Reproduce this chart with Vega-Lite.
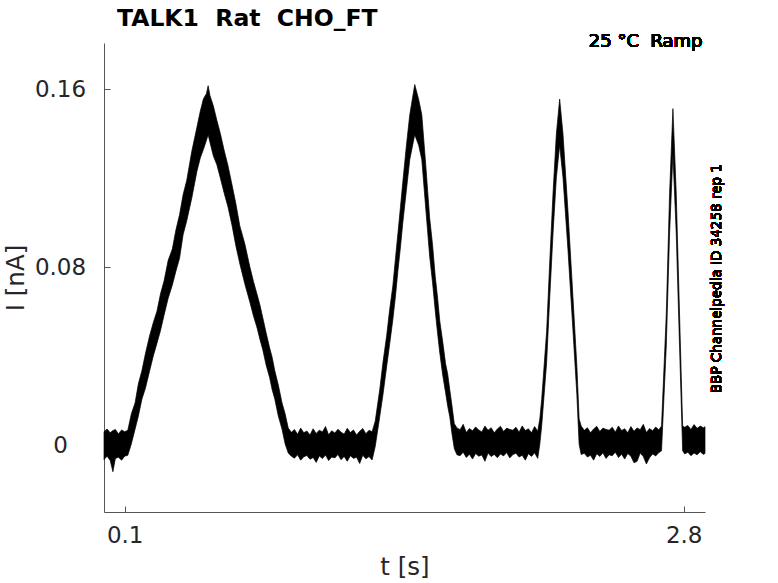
{
  "$schema": "https://vega.github.io/schema/vega-lite/v6.json",
  "description": "TALK1 Rat CHO_FT ramp current trace, band of the noisy current",
  "width": 601,
  "height": 469,
  "autosize": "none",
  "padding": {"left": 104, "top": 43, "right": 73, "bottom": 71},
  "config": {"font": "DejaVu Sans", "view": {"stroke": null}},
  "title": {
    "text": "TALK1\u00a0 Rat\u00a0 CHO_FT",
    "anchor": "start",
    "frame": "group",
    "dx": 13,
    "offset": -17,
    "baseline": "alphabetic",
    "fontSize": 23.5,
    "fontWeight": "bold",
    "color": "#000000"
  },
  "data": {
    "values": [
      {"t": 0.000, "lo": -0.0065, "hi": 0.0060},
      {"t": 0.015, "lo": -0.0050, "hi": 0.0072},
      {"t": 0.030, "lo": -0.0070, "hi": 0.0055},
      {"t": 0.043, "lo": -0.0120, "hi": 0.0065},
      {"t": 0.055, "lo": -0.0060, "hi": 0.0070},
      {"t": 0.070, "lo": -0.0055, "hi": 0.0050},
      {"t": 0.085, "lo": -0.0068, "hi": 0.0068},
      {"t": 0.100, "lo": -0.0050, "hi": 0.0060},
      {"t": 0.115, "lo": -0.0046, "hi": 0.0066},
      {"t": 0.132, "lo": 0.0005, "hi": 0.0140},
      {"t": 0.150, "lo": 0.0071, "hi": 0.0189},
      {"t": 0.166, "lo": 0.0130, "hi": 0.0275},
      {"t": 0.183, "lo": 0.0206, "hi": 0.0334},
      {"t": 0.200, "lo": 0.0255, "hi": 0.0410},
      {"t": 0.220, "lo": 0.0332, "hi": 0.0490},
      {"t": 0.238, "lo": 0.0400, "hi": 0.0550},
      {"t": 0.256, "lo": 0.0458, "hi": 0.0602},
      {"t": 0.273, "lo": 0.0515, "hi": 0.0680},
      {"t": 0.290, "lo": 0.0583, "hi": 0.0737},
      {"t": 0.310, "lo": 0.0660, "hi": 0.0830},
      {"t": 0.330, "lo": 0.0719, "hi": 0.0881},
      {"t": 0.347, "lo": 0.0780, "hi": 0.0965},
      {"t": 0.365, "lo": 0.0840, "hi": 0.1036},
      {"t": 0.382, "lo": 0.0945, "hi": 0.1125},
      {"t": 0.400, "lo": 0.1009, "hi": 0.1191},
      {"t": 0.424, "lo": 0.1110, "hi": 0.1320},
      {"t": 0.449, "lo": 0.1231, "hi": 0.1429},
      {"t": 0.465, "lo": 0.1290, "hi": 0.1500},
      {"t": 0.480, "lo": 0.1328, "hi": 0.1555},
      {"t": 0.495, "lo": 0.1370, "hi": 0.1580},
      {"t": 0.503, "lo": 0.1395, "hi": 0.1615},
      {"t": 0.512, "lo": 0.1360, "hi": 0.1570},
      {"t": 0.528, "lo": 0.1300, "hi": 0.1525},
      {"t": 0.545, "lo": 0.1260, "hi": 0.1460},
      {"t": 0.562, "lo": 0.1200, "hi": 0.1400},
      {"t": 0.580, "lo": 0.1134, "hi": 0.1326},
      {"t": 0.599, "lo": 0.1070, "hi": 0.1255},
      {"t": 0.618, "lo": 0.0989, "hi": 0.1171},
      {"t": 0.637, "lo": 0.0895, "hi": 0.1085},
      {"t": 0.656, "lo": 0.0815, "hi": 0.0985},
      {"t": 0.680, "lo": 0.0725, "hi": 0.0905},
      {"t": 0.705, "lo": 0.0641, "hi": 0.0799},
      {"t": 0.722, "lo": 0.0580, "hi": 0.0735},
      {"t": 0.740, "lo": 0.0525, "hi": 0.0675},
      {"t": 0.753, "lo": 0.0475, "hi": 0.0630},
      {"t": 0.767, "lo": 0.0428, "hi": 0.0572},
      {"t": 0.783, "lo": 0.0360, "hi": 0.0505},
      {"t": 0.800, "lo": 0.0303, "hi": 0.0437},
      {"t": 0.812, "lo": 0.0250, "hi": 0.0395},
      {"t": 0.825, "lo": 0.0206, "hi": 0.0334},
      {"t": 0.842, "lo": 0.0130, "hi": 0.0270},
      {"t": 0.860, "lo": 0.0071, "hi": 0.0189},
      {"t": 0.875, "lo": 0.0005, "hi": 0.0140},
      {"t": 0.890, "lo": -0.0036, "hi": 0.0076},
      {"t": 0.905, "lo": -0.0050, "hi": 0.0057},
      {"t": 0.920, "lo": -0.0059, "hi": 0.0070},
      {"t": 0.935, "lo": -0.0044, "hi": 0.0048},
      {"t": 0.950, "lo": -0.0068, "hi": 0.0076},
      {"t": 0.965, "lo": -0.0053, "hi": 0.0055},
      {"t": 0.980, "lo": -0.0047, "hi": 0.0063},
      {"t": 0.995, "lo": -0.0064, "hi": 0.0045},
      {"t": 1.010, "lo": -0.0056, "hi": 0.0073},
      {"t": 1.025, "lo": -0.0078, "hi": 0.0052},
      {"t": 1.040, "lo": -0.0049, "hi": 0.0067},
      {"t": 1.055, "lo": -0.0061, "hi": 0.0059},
      {"t": 1.070, "lo": -0.0045, "hi": 0.0083},
      {"t": 1.085, "lo": -0.0070, "hi": 0.0046},
      {"t": 1.100, "lo": -0.0054, "hi": 0.0064},
      {"t": 1.115, "lo": -0.0058, "hi": 0.0054},
      {"t": 1.130, "lo": -0.0042, "hi": 0.0071},
      {"t": 1.145, "lo": -0.0066, "hi": 0.0058},
      {"t": 1.160, "lo": -0.0051, "hi": 0.0049},
      {"t": 1.175, "lo": -0.0073, "hi": 0.0075},
      {"t": 1.190, "lo": -0.0048, "hi": 0.0056},
      {"t": 1.205, "lo": -0.0060, "hi": 0.0068},
      {"t": 1.220, "lo": -0.0055, "hi": 0.0045},
      {"t": 1.235, "lo": -0.0083, "hi": 0.0062},
      {"t": 1.250, "lo": -0.0046, "hi": 0.0074},
      {"t": 1.265, "lo": -0.0062, "hi": 0.0051},
      {"t": 1.280, "lo": -0.0052, "hi": 0.0066},
      {"t": 1.295, "lo": -0.0067, "hi": 0.0060},
      {"t": 1.310, "lo": -0.0007, "hi": 0.0107},
      {"t": 1.332, "lo": 0.0128, "hi": 0.0250},
      {"t": 1.348, "lo": 0.0230, "hi": 0.0375},
      {"t": 1.365, "lo": 0.0351, "hi": 0.0489},
      {"t": 1.380, "lo": 0.0455, "hi": 0.0610},
      {"t": 1.395, "lo": 0.0562, "hi": 0.0714},
      {"t": 1.408, "lo": 0.0670, "hi": 0.0840},
      {"t": 1.420, "lo": 0.0786, "hi": 0.0954},
      {"t": 1.432, "lo": 0.0890, "hi": 0.1070},
      {"t": 1.443, "lo": 0.0997, "hi": 0.1179},
      {"t": 1.460, "lo": 0.1140, "hi": 0.1340},
      {"t": 1.477, "lo": 0.1283, "hi": 0.1485},
      {"t": 1.501, "lo": 0.1395, "hi": 0.1620},
      {"t": 1.520, "lo": 0.1347, "hi": 0.1553},
      {"t": 1.535, "lo": 0.1283, "hi": 0.1485},
      {"t": 1.554, "lo": 0.1065, "hi": 0.1260},
      {"t": 1.573, "lo": 0.0849, "hi": 0.1021},
      {"t": 1.587, "lo": 0.0730, "hi": 0.0900},
      {"t": 1.600, "lo": 0.0603, "hi": 0.0757},
      {"t": 1.611, "lo": 0.0505, "hi": 0.0665},
      {"t": 1.622, "lo": 0.0414, "hi": 0.0556},
      {"t": 1.636, "lo": 0.0315, "hi": 0.0465},
      {"t": 1.650, "lo": 0.0235, "hi": 0.0365},
      {"t": 1.660, "lo": 0.0175, "hi": 0.0320},
      {"t": 1.670, "lo": 0.0128, "hi": 0.0250},
      {"t": 1.681, "lo": 0.0050, "hi": 0.0175},
      {"t": 1.692, "lo": -0.0016, "hi": 0.0096},
      {"t": 1.705, "lo": -0.0044, "hi": 0.0077},
      {"t": 1.720, "lo": -0.0048, "hi": 0.0069},
      {"t": 1.735, "lo": -0.0032, "hi": 0.0093},
      {"t": 1.750, "lo": -0.0056, "hi": 0.0056},
      {"t": 1.765, "lo": -0.0041, "hi": 0.0074},
      {"t": 1.780, "lo": -0.0063, "hi": 0.0064},
      {"t": 1.795, "lo": -0.0038, "hi": 0.0081},
      {"t": 1.810, "lo": -0.0050, "hi": 0.0068},
      {"t": 1.825, "lo": -0.0045, "hi": 0.0059},
      {"t": 1.840, "lo": -0.0073, "hi": 0.0085},
      {"t": 1.855, "lo": -0.0036, "hi": 0.0066},
      {"t": 1.870, "lo": -0.0052, "hi": 0.0078},
      {"t": 1.885, "lo": -0.0042, "hi": 0.0055},
      {"t": 1.900, "lo": -0.0057, "hi": 0.0072},
      {"t": 1.915, "lo": -0.0040, "hi": 0.0084},
      {"t": 1.930, "lo": -0.0049, "hi": 0.0061},
      {"t": 1.945, "lo": -0.0034, "hi": 0.0076},
      {"t": 1.960, "lo": -0.0058, "hi": 0.0070},
      {"t": 1.975, "lo": -0.0043, "hi": 0.0067},
      {"t": 1.990, "lo": -0.0037, "hi": 0.0080},
      {"t": 2.005, "lo": -0.0054, "hi": 0.0058},
      {"t": 2.020, "lo": -0.0046, "hi": 0.0086},
      {"t": 2.035, "lo": -0.0068, "hi": 0.0065},
      {"t": 2.050, "lo": -0.0039, "hi": 0.0073},
      {"t": 2.065, "lo": -0.0051, "hi": 0.0055},
      {"t": 2.080, "lo": -0.0035, "hi": 0.0083},
      {"t": 2.095, "lo": -0.0060, "hi": 0.0062},
      {"t": 2.105, "lo": 0.0003, "hi": 0.0117},
      {"t": 2.114, "lo": 0.0084, "hi": 0.0204},
      {"t": 2.138, "lo": 0.0370, "hi": 0.0510},
      {"t": 2.153, "lo": 0.0662, "hi": 0.0822},
      {"t": 2.169, "lo": 0.0953, "hi": 0.1133},
      {"t": 2.185, "lo": 0.1202, "hi": 0.1398},
      {"t": 2.201, "lo": 0.1347, "hi": 0.1555},
      {"t": 2.217, "lo": 0.1202, "hi": 0.1398},
      {"t": 2.241, "lo": 0.0879, "hi": 0.1053},
      {"t": 2.265, "lo": 0.0518, "hi": 0.0668},
      {"t": 2.284, "lo": 0.0227, "hi": 0.0357},
      {"t": 2.295, "lo": 0.0003, "hi": 0.0117},
      {"t": 2.305, "lo": -0.0043, "hi": 0.0085},
      {"t": 2.320, "lo": -0.0037, "hi": 0.0066},
      {"t": 2.335, "lo": -0.0054, "hi": 0.0078},
      {"t": 2.350, "lo": -0.0046, "hi": 0.0055},
      {"t": 2.365, "lo": -0.0068, "hi": 0.0072},
      {"t": 2.380, "lo": -0.0039, "hi": 0.0084},
      {"t": 2.395, "lo": -0.0051, "hi": 0.0061},
      {"t": 2.410, "lo": -0.0035, "hi": 0.0076},
      {"t": 2.425, "lo": -0.0060, "hi": 0.0070},
      {"t": 2.440, "lo": -0.0044, "hi": 0.0067},
      {"t": 2.455, "lo": -0.0048, "hi": 0.0080},
      {"t": 2.470, "lo": -0.0032, "hi": 0.0058},
      {"t": 2.485, "lo": -0.0056, "hi": 0.0086},
      {"t": 2.500, "lo": -0.0041, "hi": 0.0065},
      {"t": 2.515, "lo": -0.0063, "hi": 0.0073},
      {"t": 2.530, "lo": -0.0038, "hi": 0.0055},
      {"t": 2.545, "lo": -0.0050, "hi": 0.0083},
      {"t": 2.560, "lo": -0.0080, "hi": 0.0062},
      {"t": 2.575, "lo": -0.0073, "hi": 0.0077},
      {"t": 2.590, "lo": -0.0036, "hi": 0.0069},
      {"t": 2.605, "lo": -0.0052, "hi": 0.0093},
      {"t": 2.620, "lo": -0.0085, "hi": 0.0056},
      {"t": 2.635, "lo": -0.0057, "hi": 0.0074},
      {"t": 2.650, "lo": -0.0040, "hi": 0.0064},
      {"t": 2.665, "lo": -0.0049, "hi": 0.0081},
      {"t": 2.680, "lo": -0.0034, "hi": 0.0068},
      {"t": 2.693, "lo": -0.0026, "hi": 0.0086},
      {"t": 2.716, "lo": 0.0445, "hi": 0.0589},
      {"t": 2.732, "lo": 0.0953, "hi": 0.1133},
      {"t": 2.748, "lo": 0.1308, "hi": 0.1512},
      {"t": 2.764, "lo": 0.0953, "hi": 0.1133},
      {"t": 2.780, "lo": 0.0445, "hi": 0.0589},
      {"t": 2.795, "lo": -0.0026, "hi": 0.0086},
      {"t": 2.805, "lo": -0.0040, "hi": 0.0080},
      {"t": 2.820, "lo": -0.0032, "hi": 0.0088},
      {"t": 2.835, "lo": -0.0048, "hi": 0.0070},
      {"t": 2.850, "lo": -0.0036, "hi": 0.0092},
      {"t": 2.865, "lo": -0.0044, "hi": 0.0075},
      {"t": 2.880, "lo": -0.0030, "hi": 0.0085},
      {"t": 2.895, "lo": -0.0042, "hi": 0.0078},
      {"t": 2.903, "lo": -0.0038, "hi": 0.0082}
    ]
  },
  "layer": [
    {
      "mark": {"type": "area", "color": "#000000", "stroke": "#000000", "strokeWidth": 0.7, "interpolate": "linear"},
      "encoding": {
        "x": {
          "field": "t",
          "type": "quantitative",
          "scale": {"domain": [0, 2.903], "nice": false, "zero": false},
          "axis": {
            "title": "t [s]",
            "values": [0.1, 2.8],
            "format": "~g",
            "grid": false,
            "domainColor": "#555555",
            "tickColor": "#555555",
            "tickSize": -6,
            "labelPadding": 18,
            "labelFontSize": 23,
            "labelColor": "#262626",
            "labelFlush": false,
            "titleFontSize": 24.5,
            "titleFontWeight": "normal",
            "titleColor": "#262626",
            "titlePadding": 8
          }
        },
        "y": {
          "field": "lo",
          "type": "quantitative",
          "scale": {"domain": [-0.0301, 0.1807], "nice": false, "zero": false},
          "axis": {
            "title": "I [nA]",
            "values": [0, 0.08, 0.16],
            "format": "~g",
            "grid": false,
            "domainColor": "#555555",
            "tickColor": "#555555",
            "tickSize": -6,
            "labelPadding": 50,
            "labelAlign": "center",
            "labelBaseline": "middle",
            "labelFontSize": 23,
            "labelColor": "#262626",
            "titleFontSize": 24.5,
            "titleFontWeight": "normal",
            "titleColor": "#262626",
            "titlePadding": 6
          }
        },
        "y2": {"field": "hi"}
      }
    },
    {
      "mark": {"type": "text", "text": "25 °C\u00a0 Ramp", "align": "right", "baseline": "alphabetic", "fontSize": 18, "fontWeight": "normal", "fill": "#000000"},
      "encoding": {
        "x": {"datum": 2.891, "type": "quantitative"},
        "y": {"datum": 0.179, "type": "quantitative"}
      }
    },
    {
      "mark": {"type": "text", "text": "BBP Channelpedia ID 34258 rep 1", "angle": 270, "align": "center", "baseline": "alphabetic", "fontSize": 13.5, "fontWeight": "normal", "fill": "#000000"},
      "encoding": {
        "x": {"datum": 2.981, "type": "quantitative"},
        "y": {"datum": 0.0748, "type": "quantitative"}
      }
    }
  ]
}
